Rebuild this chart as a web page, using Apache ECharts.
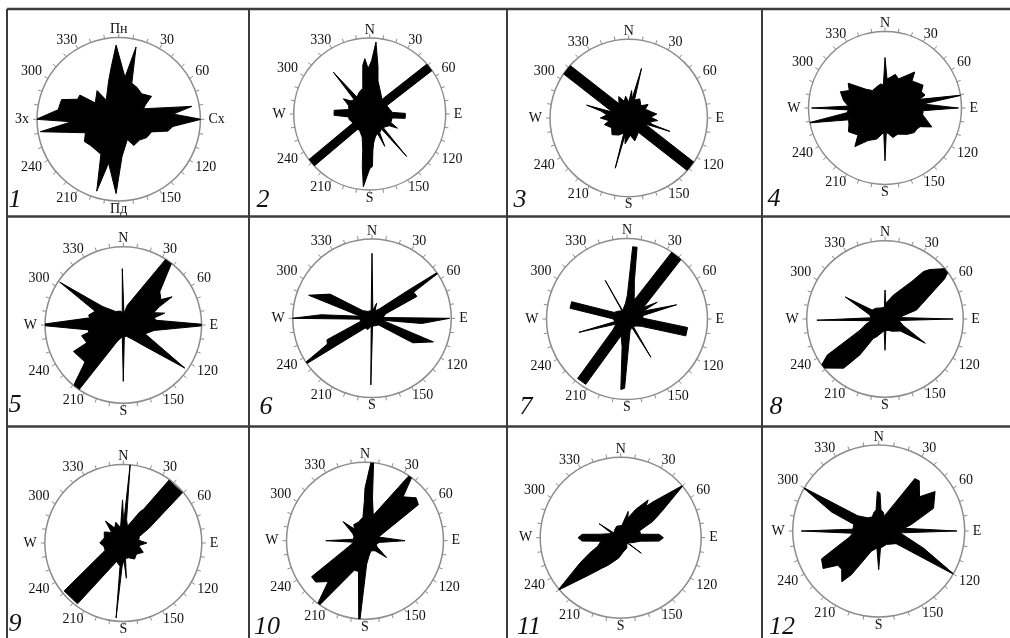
<!DOCTYPE html>
<html>
<head>
<meta charset="utf-8">
<script src="https://cdn.jsdelivr.net/npm/echarts@6/dist/echarts.min.js"></script>
<style>
  html, body { margin: 0; padding: 0; background: #ffffff; }
  #chart { width: 1010px; height: 638px; }
</style>
</head>
<body>
<div id="chart"></div>
<script>
// Rose outlines, one list per diagram: [direction, degrees clockwise from north;
// length, percent of the compass ring radius]. Points run clockwise.
const rose1 = [[8.5,52],[13.5,91],[20,47],[30,45],[42,42],[55,49],[61,38],[67,33],[80,91],[84.5,67],[90,101],[97.5,67],[103.5,62],[111,43],[123,41],[135,36],[150,37],[157,27],[175,46],[182,91],[193,55],[197,92],[207,48],[227,47],[237,50],[248,44],[261,97],[267,58],[270,101],[279,75],[289,74],[296,56],[302,56],[305,35],[323,44],[327,28],[345,48],[352,65],[358,91]];
const rose2 = [[5,95],[10,63],[14,45],[28,31],[40,25],[49,104],[55,104],[64,25],[86,30],[89,47],[97,47],[100,30],[112,30],[117,41],[121,30],[135,25],[139,74],[142,25],[152,28],[155,47],[158,28],[165,30],[172,38],[175,48],[177,69],[180,72],[185,96],[188,70],[191,48],[198,32],[210,26],[218,25],[227,104],[233,104],[242,25],[255,28],[262,28],[268,47],[276,47],[282,28],[292,30],[300,40],[305,30],[313,28],[319,73],[323,28],[335,32],[345,35],[349,48],[352,65],[355,73],[358,60],[2,70]];
const rose3 = [[0,20],[6,35],[10,25],[14.5,65],[18,24],[30,28],[45,22],[55,30],[62,24],[75,30],[82,36],[88,28],[95,37],[100,28],[105,30],[108,55],[110,22],[124.3,105],[131.7,105],[146,22],[155,25],[165,30],[175,22],[188,33],[192,22],[195,66],[198,20],[210,25],[225,30],[240,25],[255,32],[262,25],[270,36],[278,28],[284,36],[287,56],[290,22],[304.3,105],[311.7,105],[326,22],[335,30],[345,22],[352,28]];
const rose4 = [[0,66],[4,38],[12,42],[17,46],[25,42],[39.5,61],[45,50],[59,58],[66,52],[72,55],[76,47],[80.5,103],[84,50],[90,96],[94,50],[100,50],[112,66],[118,52],[123,50],[130,50],[140,45],[154,38],[165,40],[172,34],[177,32],[180,69],[183,32],[195,42],[207.5,48],[218,64],[225,50],[237,57],[245,52],[252,50],[259,103],[263,50],[267,48],[270,96],[273,48],[280,55],[290,62],[296,52],[304,58],[314.5,35],[324.5,28],[340,30],[350,32],[356,30]];
const rose5 = [[3,15],[12,26],[34,121],[38,100],[47.7,63],[56,58],[60,72],[63,52],[68,42],[74,55],[77,40],[82,43],[90,112],[100,40],[112,30],[125,96],[135,38],[150,20],[165,15],[175,15],[180,72],[185,15],[200,22],[215,119],[220,96],[226,68],[242,72],[244,52],[255.6,55],[258,45],[262,45],[270,110],[282,44],[286,46],[296,40],[304,98],[312,35],[330,20],[350,18],[355,15],[359,72]];
const rose6 = [[0,82],[6,10],[17,20],[22,10],[38,15],[52,55],[55.3,114],[58,62],[64,63],[72,18],[86,14],[90,98],[96,63],[100,14],[104,18],[111,83],[121,60],[135,12],[160,10],[176,10],[181,84],[186,10],[200,15],[215,15],[235.6,115],[240,65],[244.5,63],[255,15],[266,15],[270,101],[274,64],[280,15],[290,85],[300,61],[310,15],[330,10],[354,10]];
const rose7 = [[1,30],[4.5,90],[8,90],[11,48],[21,25],[33.8,100],[42.2,100],[55,25],[58,25],[61,43],[64,22],[68,20],[74,64],[78,20],[87,20],[98,76],[106,76],[117,20],[125,15],[140,12],[146,12],[148,56],[150,12],[165,15],[177,35],[182,86],[185,88],[190,35],[199.6,22],[212.3,96],[219.7,96],[232.4,22],[245,15],[250,15],[254.5,62],[258,15],[271,18],[280.7,72],[287.3,72],[297,18],[310,15],[328.5,12],[330.6,55],[332.5,12],[345,15],[355,20]];
const rose8 = [[0,37],[3,20],[19,32],[35.5,59],[39,78],[42,85],[52,105],[56,92],[60,72],[74,42],[84,18],[90,87],[96,18],[110,25],[121,60],[128,25],[150,18],[165,15],[176,15],[180,40],[184,15],[205,25],[211,29],[215,56],[220,82],[233,104],[238,87],[240.5,59],[246,35],[255,25],[263,18],[269,87],[275,18],[285,20],[292,20],[299,58],[305,20],[320,18],[340,15],[357,15]];
const rose9 = [[1,25],[5,100],[8,30],[14,22],[28,45],[31,50],[36,99],[49.6,99],[60,38],[68,22],[80,20],[90,30],[100,20],[115,28],[130,22],[145,25],[160,20],[172,20],[175,45],[178,22],[183,30],[185.5,96],[188,30],[200,25],[217,97],[231,97],[248,25],[260,25],[270,30],[285,25],[300,28],[312,20],[321,36],[330,22],[340,28],[350,20],[357,20],[359,55]];
const rose10 = [[0,67],[5.6,117],[10,55],[18,34],[35,113],[41,74],[50,85],[56,82],[65,30],[75,18],[82,18],[90,51],[97,18],[110,15],[118,18],[128,35],[135,18],[150,15],[165,20],[176,30],[184,114],[192,40],[200,40],[216,109],[222,70],[230,82],[236,82],[245,30],[255,18],[263,15],[270,50],[277,15],[290,15],[300,18],[311,37],[318,20],[325,25],[340,25],[355,30],[359,50]];
const rose11 = [[5,15],[16,34],[20,26],[28,40],[36,58],[39,50],[42,60],[50,102],[57,62],[63,45],[70,25],[80,25],[85,48],[90,53],[95,48],[100,25],[115,15],[125,10],[127,32],[129,10],[150,15],[170,18],[185,25],[195,30],[205,38],[212,45],[220,60],[230,102],[238,60],[243,45],[250,30],[260,25],[265,48],[270,53],[275,48],[280,25],[295,12],[301,10],[303,32],[305,10],[320,12],[340,15],[355,15]];
const rose12 = [[2,44],[6,25],[15,22],[20,18],[34.6,74],[39,75],[50,62],[55,80],[67.5,69],[78,40],[84,30],[90,91],[95,25],[100,25],[111,56],[120,102],[126,25],[150,18],[174,20],[180,45],[186,20],[200,25],[212,60],[216,73],[224,62],[230,62],[236,78],[244,74],[250,50],[258,35],[265,30],[270,90],[274,30],[285,30],[292,59],[300,103],[306,30],[320,20],[335,18],[345,22],[353,25],[358,46]];

// Compass ring labels
const degreeLabels = [30, 60, 120, 150, 210, 240, 300, 330];
const cardinalLatin = ['N', 'E', 'S', 'W'];
const cardinalUkrainian = ['Пн', 'Сх', 'Пд', 'Зх'];
const panelNumbers = ['1', '2', '3', '4', '5', '6', '7', '8', '9', '10', '11', '12'];

const roses = [rose1, rose2, rose3, rose4, rose5, rose6, rose7, rose8, rose9, rose10, rose11, rose12];

// Placement of each compass (center x, center y, ring radius) and its number tag
const layout = [
  { cx: 118.7, cy: 119.3, r: 81.7, nx: 15,  ny: 200 },
  { cx: 369.7, cy: 114,   r: 76,   nx: 263, ny: 200 },
  { cx: 628.7, cy: 118,   r: 78.7, nx: 520, ny: 200 },
  { cx: 885,   cy: 108,   r: 76.5, nx: 774, ny: 199 },
  { cx: 123.3, cy: 325,   r: 78.3, nx: 15,  ny: 405 },
  { cx: 372,   cy: 318.3, r: 79.3, nx: 266, ny: 407 },
  { cx: 627,   cy: 319,   r: 80.5, nx: 526, ny: 407 },
  { cx: 885,   cy: 319,   r: 78.3, nx: 776, ny: 407 },
  { cx: 123.3, cy: 543,   r: 78.5, nx: 15,  ny: 624 },
  { cx: 365,   cy: 540.7, r: 78.5, nx: 267, ny: 627 },
  { cx: 620.7, cy: 537.7, r: 80.5, nx: 529, ny: 627 },
  { cx: 878.7, cy: 531,   r: 86,   nx: 782, ny: 627 }
];

const SERIF = "'Liberation Serif', 'Times New Roman', serif";
const RING = '#8c8c8c';
const FRAME = '#3c3c3c';

const labelFont = { fontFamily: SERIF, fontSize: 14, color: '#111' };
const labelRich = {
  c: Object.assign({}, labelFont),                          // N, S
  h: Object.assign({ padding: [0, 7, 0, 7] }, labelFont),   // E, W
  d: Object.assign({}, labelFont),                          // 30, 150, 210, 330
  o: Object.assign({ padding: [0, 5, 0, 5] }, labelFont)    // 60, 120, 240, 300
};

function ringLabel(cardinals) {
  return function (v) {
    if (v >= 360) return '';
    if (v % 180 === 0) return '{c|' + cardinals[v / 90] + '}';
    if (v % 90 === 0) return '{h|' + cardinals[v / 90] + '}';
    if (degreeLabels.indexOf(v) < 0) return '';
    const nearVertical = (v % 180 === 30) || (v % 180 === 150);
    return '{' + (nearVertical ? 'd' : 'o') + '|' + v + '}';
  };
}

// Panel frame lines
const frameX = [7, 249, 507, 762];
const frameY = [9, 216.5, 426.5];
const graphics = [];
frameX.forEach(x => graphics.push({
  type: 'line', silent: true,
  shape: { x1: x, y1: frameY[0], x2: x, y2: 640 },
  style: { stroke: FRAME, lineWidth: 2 }
}));
frameY.forEach(y => graphics.push({
  type: 'line', silent: true,
  shape: { x1: frameX[0], y1: y, x2: 1012, y2: y },
  style: { stroke: FRAME, lineWidth: 2.5 }
}));
layout.forEach((p, i) => graphics.push({
  type: 'text', silent: true, x: p.nx, y: p.ny,
  style: {
    text: panelNumbers[i], fill: '#111',
    font: 'italic 26px ' + SERIF,
    textAlign: 'center', textVerticalAlign: 'middle'
  }
}));

const option = {
  animation: false,
  backgroundColor: '#ffffff',
  polar: layout.map(p => ({ center: [p.cx, p.cy], radius: p.r })),
  angleAxis: layout.map((p, i) => ({
    polarIndex: i,
    type: 'value', min: 0, max: 360, interval: 10,
    startAngle: 90, clockwise: true,
    axisLine: { show: true, lineStyle: { color: RING, width: 1.5 } },
    axisTick: { show: true, length: 4, lineStyle: { color: RING, width: 1 } },
    splitLine: { show: false },
    splitArea: { show: false },
    axisLabel: Object.assign({
      margin: 1,
      rich: labelRich,
      formatter: ringLabel(i === 0 ? cardinalUkrainian : cardinalLatin)
    }, labelFont)
  })),
  radiusAxis: layout.map((p, i) => ({
    polarIndex: i, type: 'value', min: 0, max: 100, show: false
  })),
  graphic: graphics,
  series: roses.map((pts, i) => ({
    type: 'line',
    coordinateSystem: 'polar',
    polarIndex: i,
    data: pts.concat([pts[0]]).map(d => [d[1], d[0]]),
    symbol: 'none',
    clip: false,
    silent: true,
    z: 3,
    lineStyle: { color: '#000', width: 1, join: 'round' },
    areaStyle: { color: '#000', opacity: 1 }
  }))
};

const chart = echarts.init(document.getElementById('chart'), null, { renderer: 'canvas' });
chart.setOption(option);
</script>
</body>
</html>
